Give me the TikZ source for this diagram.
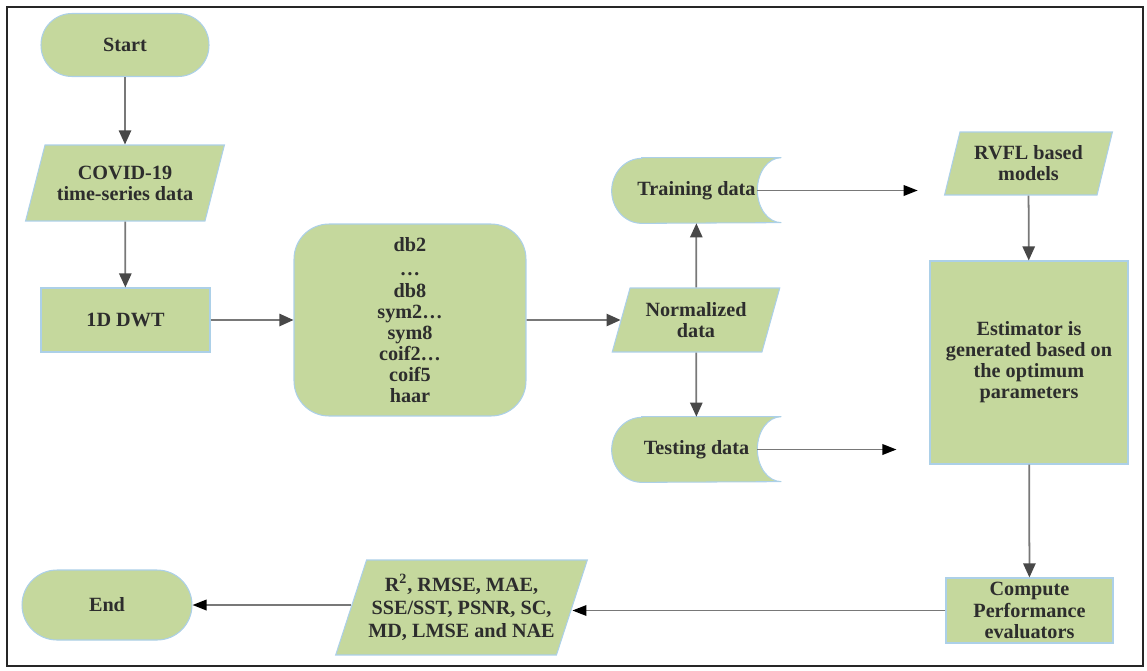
\documentclass[tikz,border=0pt]{standalone}
\usepackage{fontspec}
\setmainfont{Liberation Serif}
\newfontfamily\boxfont{Liberation Serif}
\usepackage{tikz}
\usetikzlibrary{arrows.meta,shapes.geometric,calc,backgrounds}
\definecolor{boxgreen}{RGB}{197,216,157}
\definecolor{edgeblue}{RGB}{172,208,232}
\definecolor{linegray}{RGB}{120,120,120}
\definecolor{tipgray}{RGB}{72,72,72}
\definecolor{textgray}{RGB}{45,45,45}

\begin{document}
\begin{tikzpicture}[x=0.02cm,y=-0.02cm,
  every node/.style={font=\boxfont\fontsize{11.5}{12}\selectfont\bfseries,text=textgray,align=center,inner sep=1pt},
  box/.style={rectangle,fill=boxgreen,draw=edgeblue,line width=0.6pt},
  terminal/.style={box,rounded corners=#1},
  terminal/.default=0.62cm,
  io/.style={box,trapezium,trapezium stretches=true},
  store/.style={rectangle,minimum width=3.38cm,minimum height=1.3cm},
  arr/.style={draw=linegray,line width=1pt,-{Triangle[length=8pt,width=7pt,color=tipgray]}},
  arrk/.style={arr,-{Triangle[length=8pt,width=6pt,color=black]}}]
  \useasboundingbox (0,0) rectangle (1147,670);
  \draw[line width=1.2pt,black!85] (7,7) rectangle (1143,666);
  % Left column
  \node[terminal,minimum width=3.36cm,minimum height=1.26cm] (start) at (125,45) {Start};
  \node[io,trapezium left angle=66,trapezium right angle=114,minimum width=3.98cm,minimum height=1.52cm] (covid) at (125,183) {COVID-19\\time-series data};
  \node[box,minimum width=3.38cm,minimum height=1.28cm] (dwt) at (125.5,320) {1D DWT};
  % Wavelet families
  \node[box,rounded corners=0.7cm,minimum width=4.64cm,minimum height=3.84cm] (wave) at (410,320)
    {db2\\[2pt]\dots\\db8\\sym2\dots\\sym8\\coif2\dots\\coif5\\haar};
  % Data split
  \node[io,trapezium left angle=70,trapezium right angle=110,minimum width=3.36cm,minimum height=1.28cm] (norm) at (696,320) {Normalized\\data};
  \node[store] (train) at (696.5,190.5) {Training data};
  \node[store] (test) at (696.5,449.5) {Testing data};
  \begin{pgfonlayer}{background}
    \foreach \n in {train,test}{
      \filldraw[fill=boxgreen,draw=edgeblue,line width=0.6pt]
        ($(\n.north west)+(30,0)$) -- (\n.north east)
        arc[start angle=90,end angle=270,x radius=0.48cm,y radius=0.65cm]
        -- ($(\n.south west)+(30,0)$)
        arc[start angle=270,end angle=90,x radius=0.6cm,y radius=0.65cm] -- cycle;
    }
  \end{pgfonlayer}
  % Right column
  \node[io,trapezium left angle=72,trapezium right angle=108,minimum width=3.38cm,minimum height=1.26cm] (rvfl) at (1028.5,163.5) {RVFL based\\models};
  \node[box,minimum width=3.96cm,minimum height=4.06cm] (est) at (1029,362.5) {Estimator is\\generated based on\\the optimum\\parameters};
  \node[box,minimum width=3.34cm,minimum height=1.3cm] (comp) at (1029.5,610.5) {Compute\\Performance\\evaluators};
  % Bottom row
  \node[io,trapezium left angle=66,trapezium right angle=114,minimum width=5.04cm,minimum height=1.9cm] (metr) at (461.5,607.5)
    {R\textsuperscript{2}, RMSE, MAE,\\[1pt]SSE/SST, PSNR, SC,\\[1pt]MD, LMSE and NAE};
  \node[terminal=0.7cm,minimum width=3.4cm,minimum height=1.4cm] (end) at (107,605) {End};
  % Connectors
  \draw[arr] (start) -- (covid);
  \draw[arr] (covid) -- (dwt);
  \draw[arr] (dwt) -- (wave);
  \draw[arr] (wave) -- (norm);
  \draw[arr] (norm) -- (train);
  \draw[arr] (norm) -- (test);
  \draw[arrk,shorten <=-0.48cm,shorten >=0.68cm] (train.east) -- (train.east -| rvfl.west);
  \draw[arrk,shorten <=-0.48cm,shorten >=0.66cm] (test.east) -- (test.east -| est.west);
  \draw[arr] (rvfl) -- (est);
  \draw[arr] (est) -- (comp);
  \draw[arrk] (comp.west) -- (comp.west -| metr.east);
  \draw[arrk] (metr.west |- end.east) -- (end.east);
\end{tikzpicture}
\end{document}
